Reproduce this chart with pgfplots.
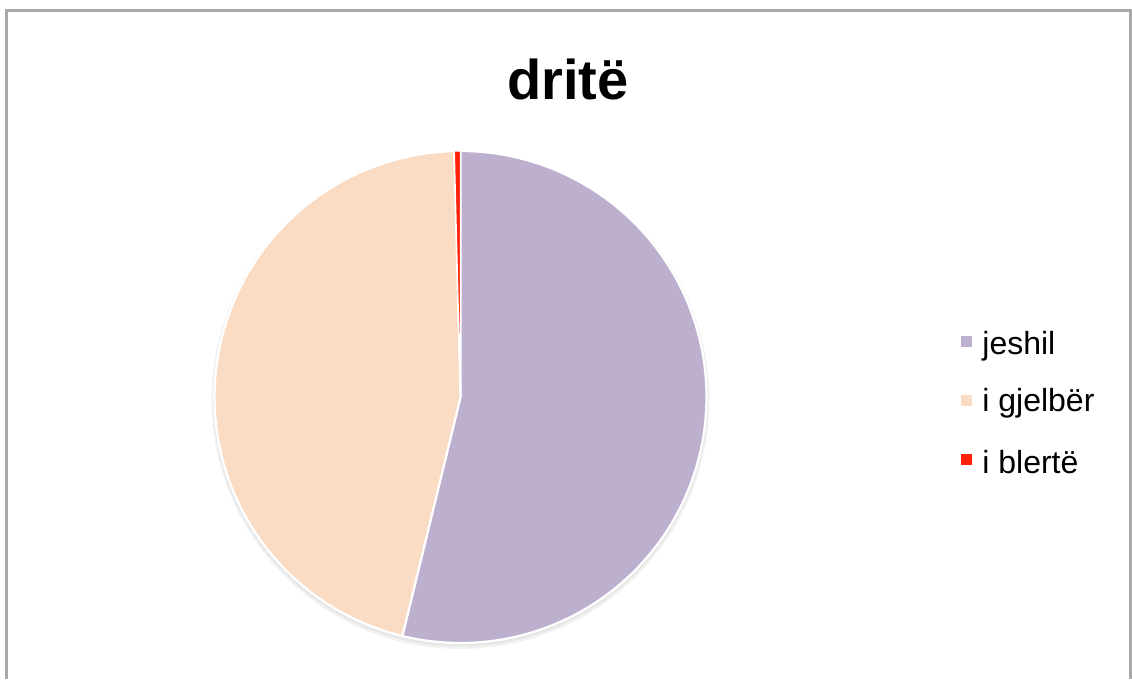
\documentclass[border=0pt]{standalone}
\usepackage{pgfplots}
\pgfplotsset{compat=1.18}
\usepackage{pgfplotstable}
\usepackage{fontspec}
\setmainfont{Liberation Sans}

\definecolor{jeshil}{HTML}{BDB0CF}
\definecolor{gjelber}{HTML}{FADBC3}
\definecolor{blerte}{HTML}{FF2208}
\definecolor{framegray}{HTML}{A8A8A8}

% shares of the three answers (percent)
\pgfplotstableread{
label value
jeshil 53.8
gjelber 45.8
blerte 0.4
}\piedata

\begin{document}
\begin{tikzpicture}
\pgfplotstablegetelem{0}{value}\of\piedata \let\vA\pgfplotsretval
\pgfplotstablegetelem{1}{value}\of\piedata \let\vB\pgfplotsretval
\pgfplotstablegetelem{2}{value}\of\piedata \let\vC\pgfplotsretval
\pgfmathsetmacro\total{\vA+\vB+\vC}
% slices run clockwise from twelve o'clock
\pgfmathsetmacro\aA{90}
\pgfmathsetmacro\aB{\aA-360*(\vA/\total)}
\pgfmathsetmacro\aC{\aB-360*(\vB/\total)}
\pgfmathsetmacro\aD{\aC-360*(\vC/\total)}
\def\cx{460.5}
\def\cy{282}
\def\r{246}
\begin{axis}[
  scale only axis, width=566pt, height=339.5pt,
  xmin=0, xmax=1132, ymin=0, ymax=679,
  axis lines=none, clip=true,
]
% keep the whole canvas in the bounding box
\path (axis cs:0,0) rectangle (axis cs:1132,679);

% outer frame (open at the bottom)
\draw[framegray, line width=1.5pt] (axis cs:6,0) -- (axis cs:6,668) -- (axis cs:1130,668) -- (axis cs:1130,0);

% title
\node[anchor=base, font=\bfseries\fontsize{28}{32}\selectfont] at (axis cs:568,579) {dritë};

% soft shadow under the pie
\fill[black, opacity=0.05] (axis cs:\cx,\cy-3) circle[radius=249*0.5pt];
\fill[black, opacity=0.05] (axis cs:\cx,\cy-2) circle[radius=247.5*0.5pt];

% slices
\addplot[fill=jeshil, draw=white, line width=1.1pt, line join=round,
  domain=\aB:\aA, samples=160, variable=\t]
  ({\cx+\r*cos(\t)}, {\cy+\r*sin(\t)}) -- (axis cs:\cx,\cy) -- cycle;
\addplot[fill=gjelber, draw=white, line width=1.1pt, line join=round,
  domain=\aC:\aB, samples=160, variable=\t]
  ({\cx+\r*cos(\t)}, {\cy+\r*sin(\t)}) -- (axis cs:\cx,\cy) -- cycle;
\addplot[fill=blerte, draw=white, line width=0.6pt, line join=round,
  domain=\aD:\aC, samples=10, variable=\t]
  ({\cx+\r*cos(\t)}, {\cy+\r*sin(\t)}) -- (axis cs:\cx,\cy) -- cycle;

% legend
\fill[jeshil]  (axis cs:960.5,331.5) rectangle (axis cs:972,343);
\fill[gjelber] (axis cs:960.5,272.5) rectangle (axis cs:972,284);
\fill[blerte]  (axis cs:960.5,213.5) rectangle (axis cs:972,225);
\node[anchor=base west, inner sep=0pt, font=\fontsize{16}{18}\selectfont] at (axis cs:982,324) {jeshil};
\node[anchor=base west, inner sep=0pt, font=\fontsize{16}{18}\selectfont] at (axis cs:982,267) {i gjelbër};
\node[anchor=base west, inner sep=0pt, font=\fontsize{16}{18}\selectfont] at (axis cs:982,205) {i blertë};
\end{axis}
\end{tikzpicture}
\end{document}
